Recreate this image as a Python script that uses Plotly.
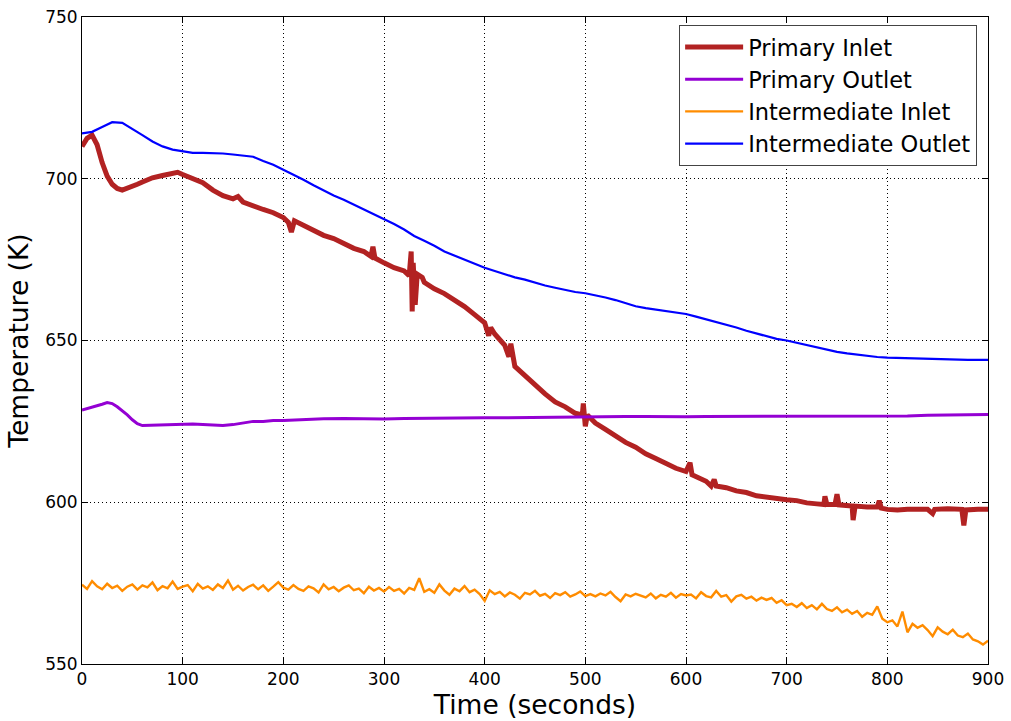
import plotly.graph_objects as go

# ---------------- data ----------------
primary_inlet_t = [0, 5, 10, 15, 20, 25, 30, 35, 40, 45, 50, 55, 60, 70, 80, 90, 95, 100, 110, 120,
                   130, 140, 150, 155, 160, 170, 180, 190, 200, 205, 208, 211, 220, 230, 240, 250,
                   260, 270, 280, 287, 289, 291, 300, 310, 320, 325, 327, 328, 329, 331, 333, 338,
                   340, 350, 360, 370, 380, 390, 400, 404, 406, 410, 420, 424, 426, 430, 440, 450,
                   460, 470, 480, 490, 497, 498, 500, 502, 510, 520, 530, 540, 550, 560, 570, 580,
                   590, 600, 604, 606, 610, 620, 625, 628, 630, 640, 650, 660, 670, 680, 690, 700,
                   710, 720, 730, 737, 738, 740, 748, 750, 752, 760, 765, 766, 768, 780, 790, 792,
                   794, 800, 810, 820, 840, 845, 847, 860, 870, 874, 876, 878, 890, 900]
primary_inlet_T = [710, 712.5, 713.5, 710.5, 705, 700.8, 698.3, 697, 696.5, 697, 697.5, 698.3, 699,
                   700.3, 701, 701.5, 702, 701.3, 700, 698.8, 696.5, 694.8, 693.8, 694.5, 692.8,
                   691.5, 690.5, 689.5, 688, 686.5, 683.5, 687, 685.5, 684, 682.5, 681.5, 680,
                   678.5, 677.5, 676, 679, 675.5, 674, 672.5, 671.5, 670, 677.5, 659, 674, 661,
                   670.5, 669.5, 668, 666, 664.5, 662.5, 660.5, 658, 655.5, 651.5, 654, 652, 648.5,
                   645, 649, 642, 639, 636, 633.5, 631, 629.5, 627.5, 627, 630.5, 623.5, 627,
                   624.5, 622.5, 620.5, 618.5, 617, 615, 613.5, 612, 610.5, 609.5, 612.2, 608.5,
                   608, 606.5, 605, 607, 605, 604.5, 603.5, 603, 602, 601.5, 601, 600.8, 600.5,
                   599.8, 599.5, 599.3, 601.8, 599.3, 599.3, 602.5, 599.2, 599, 598.8, 594.5,
                   598.8, 598.5, 598.5, 600.5, 598.2, 597.8, 597.6, 597.8, 597.8, 596.5, 597.8,
                   598, 597.6, 597.8, 592.8, 597.6, 597.8, 597.8]

primary_outlet_t = [0, 10, 20, 25, 30, 35, 40, 45, 50, 55, 60, 70, 80, 90, 100, 110, 120, 130, 140,
                    150, 160, 170, 180, 190, 200, 220, 240, 260, 280, 300, 320, 340, 360, 380, 400,
                    420, 440, 460, 480, 500, 520, 540, 560, 580, 600, 620, 640, 660, 680, 700, 720,
                    740, 760, 780, 800, 820, 840, 860, 880, 900]
primary_outlet_T = [628.5, 629.3, 630.3, 630.8, 630.5, 629.5, 628.3, 627, 625.5, 624.3, 623.7, 623.8,
                    624, 624.2, 624.1, 624.2, 624, 623.8, 623.7, 624, 624.5, 625, 625, 625.3, 625.3,
                    625.6, 625.8, 625.9, 625.8, 625.7, 625.9, 626, 626, 626, 626.1, 626.1, 626.2,
                    626.2, 626.3, 626.4, 626.4, 626.5, 626.5, 626.4, 626.4, 626.5, 626.5, 626.6,
                    626.5, 626.5, 626.6, 626.6, 626.7, 626.7, 626.6, 626.7, 626.9, 626.9, 627, 627.1]

inter_inlet_t = list(range(0, 901, 5))
inter_inlet_T = [
    574.5, 573.2, 575.6, 574.0, 573.1, 574.8, 573.5, 574.2, 572.6, 573.9,
    574.6, 573.0, 574.3, 573.7, 575.2, 572.8, 574.1, 573.4, 575.5, 573.2,
    573.9, 574.4, 572.5, 574.8, 573.3, 574.0, 572.9, 574.6, 573.5, 575.8,
    573.0, 574.2, 572.7, 573.8, 574.5, 573.1, 574.3, 572.6, 573.9, 575.3,
    573.6,
    573.0, 574.4, 573.2, 572.6, 574.0, 573.4, 572.1, 574.6, 573.1, 573.8,
    572.5, 573.6, 574.3, 572.8, 573.3, 571.9, 573.9, 572.7, 573.5, 572.4,
    573.8, 572.6, 573.2, 571.8, 573.5, 572.9, 576.5, 572.3, 573.1, 572.0,
    574.6, 572.7, 571.4, 573.3, 572.5, 574.1, 572.2, 573.0, 571.6, 569.5,
    572.8, 571.6, 572.3, 570.9, 572.1, 571.4, 570.2, 572.0, 571.5, 572.6,
    571.1, 571.7, 570.4, 571.9, 571.3, 572.2, 570.8, 571.5, 572.4, 571.0,
    571.6, 570.9, 571.8, 571.2, 572.3, 570.7, 569.4, 571.5, 570.9, 571.7,
    571.2, 570.6, 571.8, 570.3, 571.4, 570.8, 572.0, 570.5, 571.6, 571.2,
    571.5, 570.3, 572.2, 571.0, 570.6, 572.6, 570.8, 571.3, 569.3, 570.9,
    571.4, 570.2, 570.8, 569.6, 570.5, 569.8, 570.4, 568.9, 569.7, 568.2,
    568.6, 567.6, 568.8, 567.3, 568.2, 566.9, 568.6, 567.0, 566.4, 567.5,
    566.0, 566.8, 565.5, 566.4, 564.6, 565.8, 565.2, 567.8, 564.0, 562.9,
    563.5, 561.6, 566.2, 559.8, 562.4, 561.2, 562.0, 560.5, 558.6, 561.3,
    560.0, 559.2, 560.6, 558.8, 558.3, 559.4, 557.6, 557.0, 556.0, 557.2]

inter_outlet_t = [0, 10, 20, 30, 40, 50, 60, 70, 80, 90, 100, 110, 120, 130, 140, 150, 160, 170,
                  180, 190, 200, 210, 220, 230, 240, 250, 260, 270, 280, 290, 300, 310, 320, 330,
                  340, 350, 360, 370, 380, 390, 400, 410, 420, 430, 440, 450, 460, 470, 480, 490,
                  500, 510, 520, 530, 540, 550, 560, 570, 580, 590, 600, 610, 620, 630, 640, 650,
                  660, 670, 680, 690, 700, 710, 720, 730, 740, 750, 760, 770, 780, 790, 800, 820,
                  840, 860, 880, 900]
inter_outlet_T = [714, 714.5, 716, 717.5, 717.3, 715.5, 713.5, 711.5, 710, 709, 708.4, 708, 708,
                  708, 707.8, 707.5, 707.2, 706.8, 705.5, 704.3, 702.8, 701.3, 699.7, 698, 696.3,
                  694.8, 693.5, 692, 690.5, 689, 687.6, 686, 684.3, 682.3, 680.8, 679.3, 677.5,
                  676.2, 675, 673.8, 672.5, 671.5, 670.5, 669.5, 668.8, 667.8, 667, 666.3, 665.6,
                  665, 664.6, 664, 663.3, 662.5, 661.6, 660.6, 660, 659.5, 659, 658.5, 658.2,
                  657.4, 656.6, 655.6, 654.8, 654, 653, 652.2, 651.3, 650.5, 650, 649.3, 648.5,
                  647.8, 647, 646.5, 646, 645.6, 645.2, 644.9, 644.7, 644.5, 644.3, 644.2, 644, 644]

x_ticks = [0, 100, 200, 300, 400, 500, 600, 700, 800, 900]
y_ticks = [550, 600, 650, 700, 750]

# ---------------- figure ----------------
FONT = "DejaVu Sans"
fig = go.Figure()
series = [
    ("Primary Inlet", primary_inlet_t, primary_inlet_T, "#B22222", 5),
    ("Primary Outlet", primary_outlet_t, primary_outlet_T, "#9400D3", 3),
    ("Intermediate Inlet", inter_inlet_t, inter_inlet_T, "#FF8C00", 2.4),
    ("Intermediate Outlet", inter_outlet_t, inter_outlet_T, "#0000FF", 2.2),
]
for i, (name, t, T, c, w) in enumerate(series):
    fig.add_trace(go.Scatter(x=t, y=T, mode="lines", name=name, legendgroup=f"g{i}",
                             line=dict(color=c, width=w)))

axis_common = dict(showline=True, linecolor="black", linewidth=1, mirror="ticks",
                   ticks="inside", ticklen=6, tickcolor="black", automargin=False,
                   showgrid=True, gridcolor="black", gridwidth=1, griddash="1px,3px",
                   zeroline=False, tickfont=dict(family=FONT, size=17, color="black"))

fig.update_layout(
    width=1011, height=721,
    margin=dict(l=82, r=23, t=17, b=57),
    paper_bgcolor="white", plot_bgcolor="white",
    font=dict(family=FONT, color="black"),
    xaxis=dict(range=[0, 900], tickvals=x_ticks, title=dict(text="Time (seconds)",
               font=dict(family=FONT, size=26.5), standoff=6), **axis_common),
    yaxis=dict(range=[550, 750], tickvals=y_ticks, title=dict(text="Temperature (K)",
               font=dict(family=FONT, size=26.5), standoff=8), **axis_common),
    legend=dict(x=0.988, y=0.988, xanchor="right", yanchor="top",
                bgcolor="white", bordercolor="#444", borderwidth=1, itemwidth=58,
                font=dict(family=FONT, size=22.5, color="black"), tracegroupgap=0),
    showlegend=True,
)

fig.write_html("out.html", config={"displayModeBar": False},
               post_script="document.body.style.margin='0px';document.body.style.padding='0px';")
